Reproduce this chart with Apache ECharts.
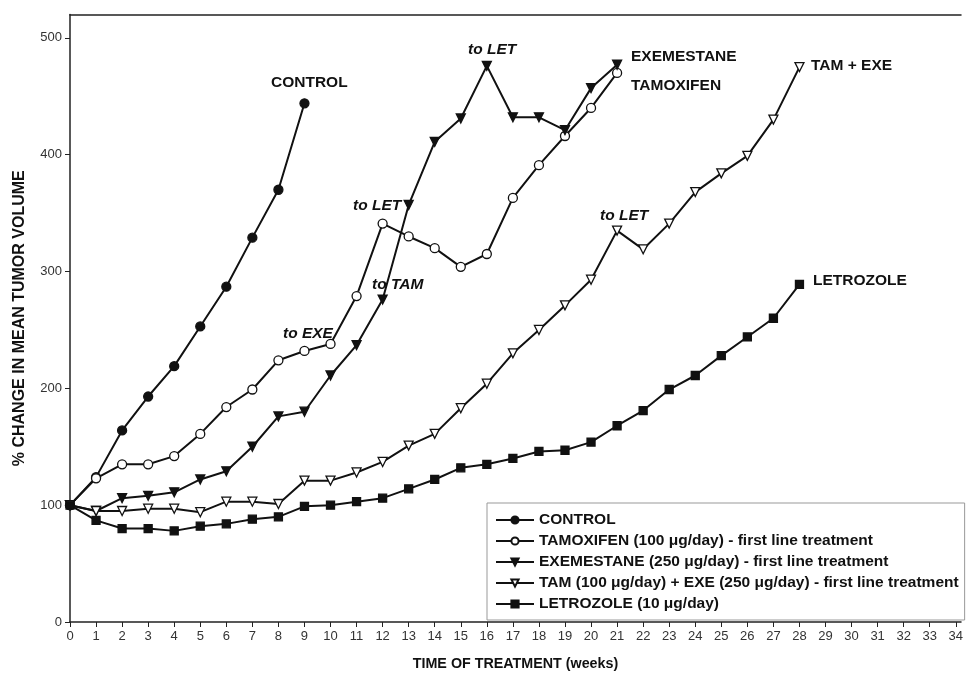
<!DOCTYPE html>
<html><head><meta charset="utf-8">
<script src="https://cdn.jsdelivr.net/npm/echarts@6/dist/echarts.min.js"></script>
<style>html,body{margin:0;padding:0;background:#fff}#c{width:966px;height:677px}</style>
</head><body><div id="c"></div>
<script>
const weeks = Array.from({length: 35}, (_, i) => i);
const yTicks = [0, 100, 200, 300, 400, 500];
const seriesNames = [
  'CONTROL',
  'TAMOXIFEN (100 \u03bcg/day) - first line treatment',
  'EXEMESTANE (250 \u03bcg/day) - first line treatment',
  'TAM (100 \u03bcg/day) + EXE (250 \u03bcg/day) - first line treatment',
  'LETROZOLE (10 \u03bcg/day)'
];
const control = [100,124,164,193,219,253,287,329,370,444];
const tamoxifen = [100,123,135,135,142,161,184,199,224,232,238,279,341,330,320,304,315,363,391,416,440,470];
const exemestane = [100,95,106,108,111,122,129,150,176,180,211,237,276,357,411,431,476,432,432,421,457,477];
const tamExe = [100,95,95,97,97,94,103,103,101,121,121,128,137,151,161,183,204,230,250,271,293,335,319,341,368,384,399,430,475];
const letrozole = [100,87,80,80,78,82,84,88,90,99,100,103,106,114,122,132,135,140,146,147,154,168,181,199,211,228,244,260,289];

const toPairs = arr => arr.map((v, i) => [weeks[i], v]);
const FONT = '"Liberation Sans", Arial, sans-serif';

function mk(name, data, symbol, size, filled, rotate) {
  return {
    name, type: 'line', data: toPairs(data),
    symbol, symbolSize: size, symbolRotate: rotate || 0,
    showAllSymbol: true,
    lineStyle: {color: '#111', width: 2},
    itemStyle: {color: filled ? '#111' : '#fff', borderColor: '#111', borderWidth: 1.3},
    z: 3, animation: false
  };
}

const chart = echarts.init(document.getElementById('c'), null, {renderer: 'canvas'});
const annot = [
  ['CONTROL', 271, 84, false],
  ['EXEMESTANE', 631, 58, false],
  ['TAMOXIFEN', 631, 87, false],
  ['TAM + EXE', 811, 67, false],
  ['LETROZOLE', 813, 282, false],
  ['to LET', 468, 51, true],
  ['to LET', 353, 207, true],
  ['to LET', 600, 217, true],
  ['to TAM', 372, 286, true],
  ['to EXE', 283, 335, true]
];
chart.setOption({
  animation: false,
  textStyle: {fontFamily: FONT},
  grid: {left: 70, right: 0, top: 14.5, bottom: 55, containLabel: false},
  xAxis: [{
    type: 'value', min: 0, max: 34.2, interval: 1,
    name: 'TIME OF TREATMENT (weeks)', nameLocation: 'middle', nameGap: 35,
    nameTextStyle: {fontFamily: FONT, fontWeight: 'bold', fontSize: 14.3, color: '#111'},
    axisLine: {lineStyle: {color: '#222', width: 1.5}},
    axisTick: {length: 5, lineStyle: {color: '#222'}, customValues: weeks},
    axisLabel: {color: '#333', fontSize: 13, margin: 8, customValues: weeks, fontFamily: FONT},
    splitLine: {show: false}
  }, {
    type: 'value', min: 0, max: 34.2, position: 'top',
    axisLine: {show: true, onZero: false, lineStyle: {color: '#222', width: 1.5}},
    axisTick: {show: false}, axisLabel: {show: false}, splitLine: {show: false}
  }],
  yAxis: {
    type: 'value', min: 0, max: 520, interval: 100,
    name: '% CHANGE IN MEAN TUMOR VOLUME', nameLocation: 'middle', nameGap: 42,
    nameTextStyle: {fontFamily: FONT, fontWeight: 'bold', fontSize: 16, color: '#111'},
    axisLine: {show: true, lineStyle: {color: '#222', width: 1.5}},
    axisTick: {show: true, length: 5, lineStyle: {color: '#222'}, customValues: yTicks},
    axisLabel: {color: '#333', fontSize: 13, margin: 8, customValues: yTicks, fontFamily: FONT},
    splitLine: {show: false}
  },
  legend: {
    orient: 'vertical', left: 487, top: 503,
    padding: [9, 6, 8, 8],
    itemGap: 5, itemWidth: 38, itemHeight: 9,
    borderColor: '#999', borderWidth: 1, backgroundColor: '#fff',
    textStyle: {fontFamily: FONT, fontWeight: 'bold', fontSize: 15.5, color: '#111', lineHeight: 16},
    data: seriesNames
  },
  series: [
    mk(seriesNames[0], control, 'circle', 9, true),
    mk(seriesNames[1], tamoxifen, 'circle', 9, false),
    mk(seriesNames[2], exemestane, 'triangle', 9, true, 180),
    mk(seriesNames[3], tamExe, 'triangle', 9, false, 180),
    mk(seriesNames[4], letrozole, 'rect', 8, true)
  ],
  graphic: annot.map(a => ({
    type: 'text', left: a[1], top: a[2] - 9, z: 10,
    style: {text: a[0], font: (a[3] ? 'italic bold 15.5px ' : 'bold 15.5px ') + FONT, fill: '#111'}
  }))
});
</script></body></html>
